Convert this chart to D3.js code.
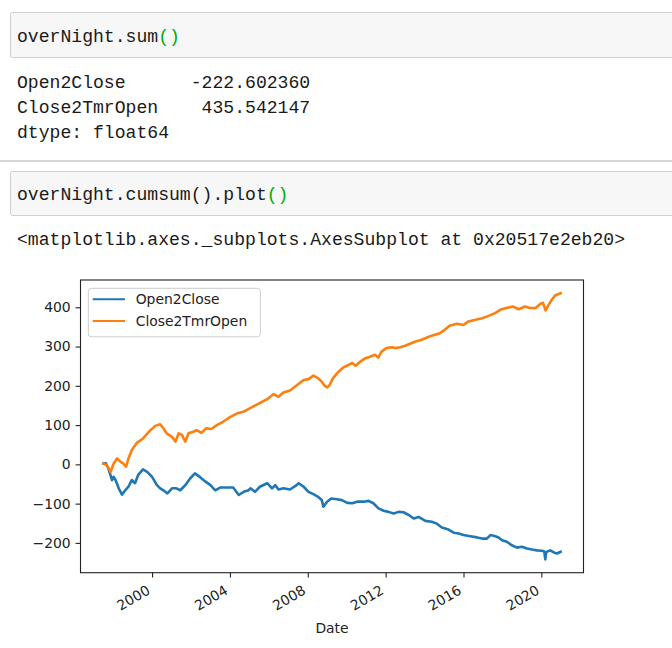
<!DOCTYPE html>
<html><head><meta charset="utf-8">
<script src="https://cdn.jsdelivr.net/npm/d3@7"></script>
<style>html,body{margin:0;padding:0;background:#fff;overflow:hidden}</style>
</head><body><svg id="c" width="672" height="648"></svg>
<script>
// ---------- text content ----------
const code1 = ["overNight.sum", "()"];
const sumLabels = ["Open2Close", "Close2TmrOpen"];
const sumValues = [-222.602360, 435.542147];
const dtypeLine = "dtype: float64";
const code2 = ["overNight.cumsum().plot", "()"];
const reprLine = "<matplotlib.axes._subplots.AxesSubplot at 0x20517e2eb20>";

// ---------- chart data ----------
const seriesNames = ["Open2Close", "Close2TmrOpen"];
const openDates = ["1997-07-01","1997-08-15","1997-10-01","1997-11-10","1997-12-10","1998-01-10","1998-02-15","1998-04-15","1998-06-15","1998-08-15","1998-10-15","1998-12-15","1999-02-15","1999-04-15","1999-07-15","1999-10-01","2000-01-01","2000-04-01","2000-06-01","2000-08-01","2000-10-15","2001-01-10","2001-04-01","2001-06-15","2001-09-15","2001-12-15","2002-03-15","2002-06-15","2002-10-01","2003-01-01","2003-04-01","2003-07-01","2003-11-01","2004-03-01","2004-06-15","2004-09-15","2004-12-15","2005-01-20","2005-04-15","2005-07-15","2005-12-01","2006-03-01","2006-05-01","2006-07-01","2006-10-01","2007-02-01","2007-05-15","2007-07-15","2007-10-15","2008-01-15","2008-04-15","2008-07-15","2008-09-20","2008-10-20","2008-12-28","2009-03-15","2009-07-01","2009-10-01","2010-01-10","2010-04-15","2010-07-15","2010-11-15","2011-02-15","2011-05-15","2011-08-20","2011-11-25","2012-02-25","2012-05-30","2012-09-01","2012-12-01","2013-03-10","2013-06-10","2013-09-10","2014-01-15","2014-05-15","2014-08-20","2014-11-20","2015-03-25","2015-07-01","2015-10-01","2016-01-01","2016-05-10","2016-09-10","2016-12-15","2017-03-15","2017-05-20","2017-08-20","2017-10-20","2017-12-25","2018-03-25","2018-06-25","2018-10-01","2019-01-01","2019-04-05","2019-07-10","2019-10-10","2020-01-10","2020-02-25","2020-03-15","2020-04-01","2020-06-15","2020-08-30","2020-10-20","2020-12-28"];
const openValues = [2,3,-10,-27,-40,-32,-40,-61,-77,-66,-57,-40,-48,-27,-13,-19,-32,-53,-61,-66,-74,-61,-61,-66,-53,-36,-23,-32,-44,-53,-66,-59,-59,-59,-78,-70,-66,-61,-70,-57,-48,-61,-53,-64,-61,-64,-55,-48,-57,-70,-76,-83,-91,-108,-95,-87,-89,-91,-98,-99,-95,-95,-93,-99,-112,-118,-121,-125,-121,-122,-129,-138,-134,-144,-146,-151,-161,-166,-174,-176,-180,-183,-186,-189,-189,-180,-183,-186,-193,-197,-206,-212,-210,-214,-217,-219,-220,-222,-242,-223,-219,-225,-227,-222.60];
const closeDates = ["1997-07-01","1997-09-01","1997-11-15","1998-01-10","1998-03-15","1998-05-15","1998-07-01","1998-09-01","1998-10-15","1998-12-15","1999-03-15","1999-07-15","1999-12-01","2000-03-01","2000-06-01","2000-08-01","2000-10-01","2001-01-10","2001-03-15","2001-05-15","2001-07-15","2001-09-15","2001-11-15","2002-02-15","2002-04-15","2002-07-15","2002-10-15","2003-01-15","2003-05-01","2003-09-01","2004-01-10","2004-05-15","2004-09-15","2005-01-15","2005-06-15","2005-12-01","2006-04-01","2006-07-01","2006-10-01","2007-02-01","2007-06-15","2007-10-15","2008-01-15","2008-04-15","2008-07-15","2008-09-15","2008-11-15","2009-01-01","2009-02-15","2009-04-15","2009-08-01","2009-11-01","2010-02-01","2010-04-15","2010-06-15","2010-09-15","2010-12-15","2011-03-15","2011-06-15","2011-08-15","2011-10-15","2012-01-15","2012-05-01","2012-07-01","2012-10-01","2013-01-01","2013-04-01","2013-07-15","2013-10-15","2014-04-15","2014-10-15","2015-01-15","2015-04-15","2015-09-01","2016-01-01","2016-04-01","2016-08-15","2016-12-15","2017-04-15","2017-08-15","2017-12-01","2018-03-15","2018-07-15","2018-11-01","2019-03-01","2019-06-01","2019-09-15","2019-12-15","2020-02-01","2020-03-20","2020-05-15","2020-07-15","2020-09-15","2020-12-28"];
const closeValues = [2,-2,-19,2,15,7,3,-6,15,36,54,66,87,98,102,92,79,70,58,79,75,58,79,83,87,80,92,90,100,109,121,130,134,143,154,166,179,172,183,188,202,215,217,226,219,211,200,196,202,219,236,247,253,258,251,262,270,274,279,272,287,296,298,296,298,302,307,313,316,326,334,343,353,358,355,364,368,372,378,385,394,398,402,395,402,398,398,409,411,392,406,419,430,435.54];
const yTicks = [-200,-100,0,100,200,300,400];
const xTickYears = [2000,2004,2008,2012,2016,2020];
const xLabel = "Date";

// ---------- styles ----------
const colors = ["#1f77b4", "#ff7f0e"];
const monoFont = "'Liberation Mono', 'DejaVu Sans Mono', monospace";
const plotFont = "'DejaVu Sans', sans-serif";
const monoSize = 18.1, plotSize = 13.9;

const svg = d3.select("#c");

// ---------- notebook cells ----------
function codeCell(top, bottom, parts, baseline) {
  svg.append("rect").attr("x", 10.5).attr("y", top + 0.5).attr("width", 700).attr("height", bottom - top)
    .attr("rx", 2).attr("fill", "#f7f7f7").attr("stroke", "#cfcfcf").attr("stroke-width", 1);
  const t = svg.append("text").attr("x", 17).attr("y", baseline)
    .style("font-family", monoFont).style("font-size", monoSize + "px").style("white-space", "pre");
  t.append("tspan").attr("fill", "#1a1a1a").text(parts[0]);
  t.append("tspan").attr("fill", "#00aa00").text(parts[1]);
}
codeCell(12, 57, code1, 42);
const fmt6 = d3.format(".6f");
const outLines = sumLabels.map((l, i) => l.padEnd(16) + fmt6(sumValues[i]).replace("\u2212", "-").padStart(11));
outLines.push(dtypeLine);
outLines.forEach((s, i) => {
  svg.append("text").attr("x", 17).attr("y", 87.5 + i * 25.3)
    .style("font-family", monoFont).style("font-size", monoSize + "px").style("white-space", "pre")
    .attr("fill", "#1a1a1a").text(s);
});
svg.append("line").attr("x1", 0).attr("x2", 672).attr("y1", 161).attr("y2", 161)
  .attr("stroke", "#ababab").attr("stroke-width", 1.2);
codeCell(171, 215, code2, 199.5);
svg.append("text").attr("x", 17).attr("y", 244.5)
  .style("font-family", monoFont).style("font-size", monoSize + "px").style("white-space", "pre")
  .attr("fill", "#1a1a1a").text(reprLine);

// ---------- chart ----------
const X0 = 80.5, X1 = 583.5, Y0 = 280, Y1 = 572.7;
const parse = d3.timeParse("%Y-%m-%d");
const series = [
  openDates.map((d, i) => ({ date: parse(d), value: openValues[i] })),
  closeDates.map((d, i) => ({ date: parse(d), value: closeValues[i] }))
];
const allPts = series.flat();
const [t0, t1] = d3.extent(allPts, d => +d.date);
const [v0, v1] = d3.extent(allPts, d => d.value);
const tp = (t1 - t0) * 0.05, vp = (v1 - v0) * 0.05;
const x = d3.scaleTime().domain([new Date(t0 - tp), new Date(t1 + tp)]).range([X0, X1]);
const y = d3.scaleLinear().domain([v0 - vp, v1 + vp]).range([Y1, Y0]);

const line = d3.line().x(d => x(d.date)).y(d => y(d.value));
series.forEach((s, i) => {
  svg.append("path").datum(s).attr("d", line).attr("fill", "none")
    .attr("stroke", colors[i]).attr("stroke-width", 2.6).attr("stroke-linejoin", "round").attr("stroke-linecap", "square");
});

const yAxis = svg.append("g").attr("transform", `translate(${X0},0)`)
  .call(d3.axisLeft(y).tickValues(yTicks).tickSize(4.9).tickPadding(4.9).tickFormat(d3.format("d")));
const xAxis = svg.append("g").attr("transform", `translate(0,${Y1})`)
  .call(d3.axisBottom(x).tickValues(xTickYears.map(yr => new Date(yr, 0, 1))).tickSize(4.9).tickFormat(d3.timeFormat("%Y")));
[yAxis, xAxis].forEach(g => {
  g.select(".domain").remove();
  g.selectAll(".tick line").attr("stroke", "#222").attr("stroke-width", 1.1);
  g.selectAll(".tick text").attr("fill", "#222").style("font-family", plotFont).style("font-size", plotSize + "px");
});
xAxis.selectAll(".tick text").attr("x", 0).attr("y", 0).attr("dy", 0)
  .attr("text-anchor", "end").attr("transform", "translate(-1.5,20.5) rotate(-30)");

svg.append("rect").attr("x", X0).attr("y", Y0).attr("width", X1 - X0).attr("height", Y1 - Y0)
  .attr("fill", "none").attr("stroke", "#222").attr("stroke-width", 1.1);

svg.append("text").attr("x", (X0 + X1) / 2).attr("y", 633).attr("text-anchor", "middle")
  .style("font-family", plotFont).style("font-size", plotSize + "px").attr("fill", "#222").text(xLabel);

// legend
const lg = svg.append("g").attr("transform", `translate(${X0 + 7.8},${Y0 + 8.3})`);
lg.append("rect").attr("width", 172).attr("height", 48.5).attr("rx", 3)
  .attr("fill", "#fff").attr("fill-opacity", 0.8).attr("stroke", "#cccccc");
seriesNames.forEach((n, i) => {
  const cy = 11 + i * 21.7;
  lg.append("line").attr("x1", 4.4).attr("x2", 36.7).attr("y1", cy).attr("y2", cy)
    .attr("stroke", colors[i]).attr("stroke-width", 2.1);
  lg.append("text").attr("x", 47.4).attr("y", cy + 5).style("font-family", plotFont)
    .style("font-size", plotSize + "px").attr("fill", "#222").text(n);
});
</script></body></html>
